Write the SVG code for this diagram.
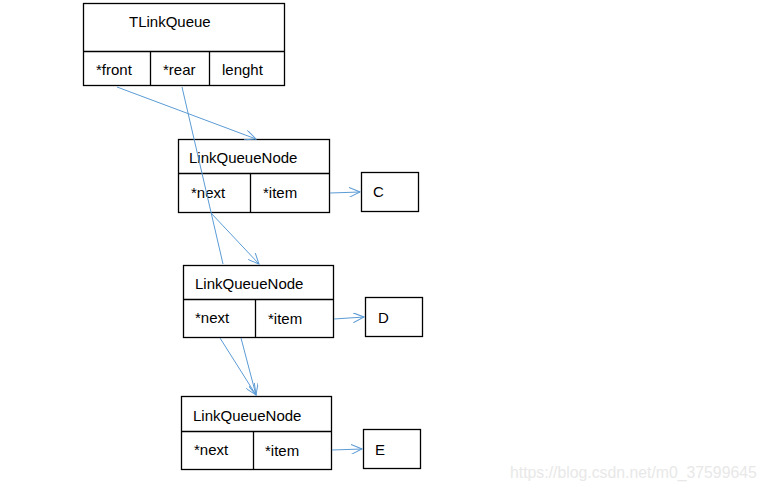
<svg xmlns="http://www.w3.org/2000/svg" width="766" height="492" viewBox="0 0 766 492">
<defs>
<marker id="arr" markerWidth="12" markerHeight="10" refX="11" refY="5" orient="auto" markerUnits="userSpaceOnUse">
<path d="M0,0 L11,5 L0,10" fill="none" stroke="#5B9BD5" stroke-width="1"/>
</marker>
<style>
.box{fill:#fff;stroke:#000;stroke-width:1.3}
.t{font-family:"Liberation Sans",Arial,sans-serif;font-size:15px;fill:#000}
.c{stroke:#5B9BD5;stroke-width:1;fill:none}
.a{marker-end:url(#arr)}
.wm{font-family:"Liberation Sans",Arial,sans-serif;font-size:15.8px;fill:#e8e8e8}
</style>
</defs>
<rect width="766" height="492" fill="#fff"/>
<g id="tlinkqueue">
<rect class="box" x="83.5" y="3.5" width="201" height="82"/>
<line class="box" x1="83.5" y1="51.5" x2="284.5" y2="51.5"/>
<line class="box" x1="150.5" y1="51.5" x2="150.5" y2="85.5"/>
<line class="box" x1="209.5" y1="51.5" x2="209.5" y2="85.5"/>
<text class="t" x="129" y="27">TLinkQueue</text>
<text class="t" x="96" y="75">*front</text>
<text class="t" x="163" y="75">*rear</text>
<text class="t" x="222" y="75">lenght</text>
</g>
<g id="node1">
<rect class="box" x="178.5" y="139.5" width="151" height="73"/>
<line class="box" x1="178.5" y1="173.5" x2="329.5" y2="173.5"/>
<line class="box" x1="250.5" y1="173.5" x2="250.5" y2="212.5"/>
<text class="t" x="189" y="163">LinkQueueNode</text>
<text class="t" x="191" y="198">*next</text>
<text class="t" x="263" y="198">*item</text>
</g>
<g id="c">
<rect class="box" x="361.5" y="172.5" width="57" height="39"/>
<text class="t" x="373" y="197">C</text>
</g>
<g id="node2">
<rect class="box" x="183.5" y="265.5" width="150" height="72"/>
<line class="box" x1="183.5" y1="299.5" x2="333.5" y2="299.5"/>
<line class="box" x1="255.5" y1="299.5" x2="255.5" y2="337.5"/>
<text class="t" x="195" y="289">LinkQueueNode</text>
<text class="t" x="195" y="323">*next</text>
<text class="t" x="268" y="324">*item</text>
</g>
<g id="d">
<rect class="box" x="365.5" y="297.5" width="57" height="39"/>
<text class="t" x="378" y="323">D</text>
</g>
<g id="node3">
<rect class="box" x="181.5" y="396.5" width="150" height="73"/>
<line class="box" x1="181.5" y1="431.5" x2="331.5" y2="431.5"/>
<line class="box" x1="253.5" y1="431.5" x2="253.5" y2="469.5"/>
<text class="t" x="193" y="421">LinkQueueNode</text>
<text class="t" x="194" y="455">*next</text>
<text class="t" x="265" y="456">*item</text>
</g>
<g id="e">
<rect class="box" x="363.5" y="429.5" width="57" height="39"/>
<text class="t" x="375" y="455">E</text>
</g>
<g id="connectors">
<line class="c a" x1="117" y1="87" x2="256" y2="139"/>
<line class="c" x1="182" y1="87" x2="223" y2="264"/>
<line class="c a" x1="211" y1="213" x2="259" y2="264"/>
<line class="c a" x1="330" y1="193" x2="360" y2="192"/>
<line class="c a" x1="334" y1="319" x2="364" y2="317"/>
<line class="c a" x1="220" y1="338" x2="256" y2="395"/>
<line class="c a" x1="241" y1="338" x2="256" y2="395"/>
<line class="c a" x1="332" y1="450" x2="362" y2="449"/>
</g>
<text class="wm" x="510" y="478">https://blog.csdn.net/m0_37599645</text>
</svg>
